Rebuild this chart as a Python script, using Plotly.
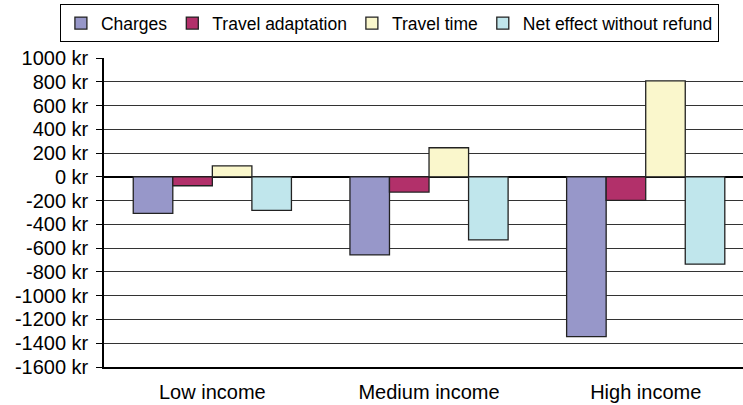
import plotly.graph_objects as go

# Income groups and per-series effects (kr)
groups = ["Low income", "Medium income", "High income"]
series_names = ["Charges", "Travel adaptation", "Travel time", "Net effect without refund"]
charges = [-307, -657, -1344]
travel_adaptation = [-75, -128, -198]
travel_time = [93, 245, 808]
net_effect = [-282, -531, -735]

y_ticks = list(range(-1600, 1001, 200))
y_tick_text = [f"{v} kr" for v in y_ticks]

colors = ["#9797C9", "#B2306A", "#FAF7CC", "#C0E6EC"]
values = [charges, travel_adaptation, travel_time, net_effect]

FONT = "Liberation Sans, Arial, sans-serif"

fig = go.Figure()
for name, vals, col in zip(series_names, values, colors):
    fig.add_trace(go.Bar(
        x=groups, y=vals, name=name,
        marker=dict(color=col, line=dict(color="#222222", width=1.3)),
    ))

W, H = 743, 405
m_l, m_r, m_t, m_b = 104, 0, 58, 38
y_min, y_max = -1600, 1000
zero_pos = (0 - y_min) / (y_max - y_min)

fig.update_layout(
    width=W, height=H,
    margin=dict(l=m_l, r=m_r, t=m_t, b=m_b),
    paper_bgcolor="white", plot_bgcolor="white",
    barmode="group", bargap=0.27, bargroupgap=0,
    font=dict(family=FONT, size=20, color="black"),
    legend=dict(
        orientation="h", x=-0.069, y=1.174, xanchor="left", yanchor="top",
        bordercolor="black", borderwidth=1, bgcolor="white",
        font=dict(size=17.5), traceorder="normal",
        tracegroupgap=0,
    ),
    xaxis=dict(
        range=[-0.5, 2.449], showgrid=False, ticks="", showline=True,
        linecolor="black", linewidth=1.5, tickfont=dict(size=20),
        ticklabelstandoff=6,
    ),
    xaxis2=dict(
        overlaying="x", anchor="free", position=zero_pos,
        range=[-0.5, 2.449], tickvals=[0.5, 1.5], ticks="outside",
        ticklen=6, tickcolor="black", showticklabels=False,
        showgrid=False, showline=False, zeroline=False,
    ),
    yaxis=dict(
        range=[y_min, y_max], tickvals=y_ticks, ticktext=y_tick_text,
        showgrid=True, gridcolor="#333333", gridwidth=1,
        zeroline=True, zerolinecolor="black", zerolinewidth=1.5,
        showline=True, linecolor="black", linewidth=1.5,
        ticks="outside", ticklen=6, tickcolor="black",
        tickfont=dict(size=20), ticklabelstandoff=4,
    ),
)

fig.write_html("out.html")
